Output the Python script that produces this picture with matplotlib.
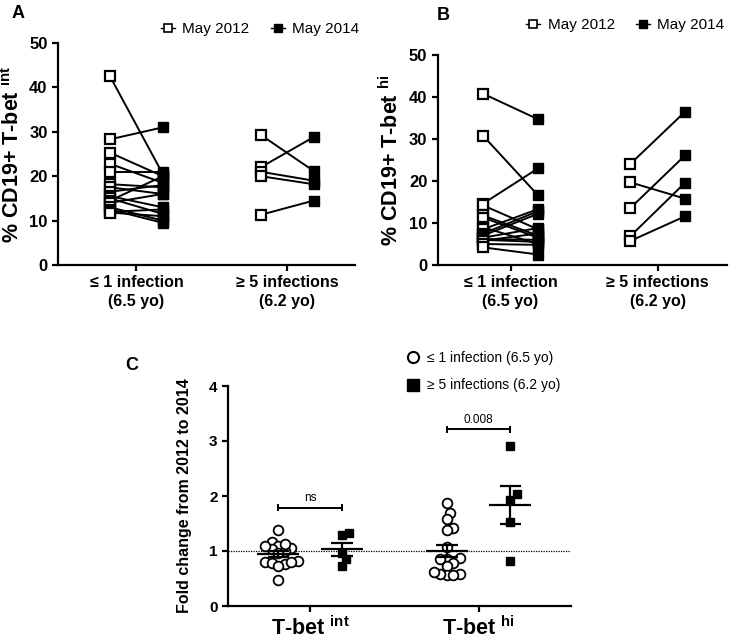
import numpy as np
import matplotlib
matplotlib.use('Agg')
import matplotlib.pyplot as plt
from matplotlib.lines import Line2D

plt.rcParams['font.family'] = ['Liberation Sans', 'DejaVu Sans']
plt.rcParams['mathtext.fontset'] = 'custom'
plt.rcParams['mathtext.rm'] = 'Liberation Sans:bold'
plt.rcParams['mathtext.bf'] = 'Liberation Sans:bold'
plt.rcParams['mathtext.it'] = 'Liberation Sans:bold'

# Panel A: % CD19+ T-bet int, paired 2012 -> 2014
GROUPS = ['≤ 1 infection\n(6.5 yo)', '≥ 5 infections\n(6.2 yo)']
A_LOW_2012 = [42.5, 28.3, 25.3, 22.8, 21.0, 18.2, 17.5, 16.5, 15.5, 15.0, 14.5, 14.0, 13.0, 12.5, 12.0, 11.8]
A_LOW_2014 = [20.5, 31.0, 20.0, 18.5, 21.0, 17.5, 16.0, 18.0, 13.0, 11.5, 20.0, 16.0, 10.0, 9.5, 12.5, 11.0]
A_HIGH_2012 = [29.3, 22.0, 21.0, 20.0, 11.3]
A_HIGH_2014 = [21.2, 28.8, 19.0, 18.2, 14.5]

# Panel B: % CD19+ T-bet hi, paired 2012 -> 2014
B_LOW_2012 = [40.8, 30.8, 14.6, 14.2, 11.8, 11.3, 9.0, 8.5, 7.5, 7.0, 6.5, 6.2, 6.0, 5.8, 5.0, 4.2]
B_LOW_2014 = [34.7, 16.6, 23.0, 8.5, 7.0, 6.5, 5.0, 13.3, 12.8, 12.2, 8.8, 6.0, 5.5, 7.5, 4.8, 2.5]
B_HIGH_2012 = [24.0, 19.7, 13.5, 6.8, 5.7]
B_HIGH_2014 = [36.5, 15.8, 26.1, 19.6, 11.6]

# Panel C: fold change 2012 -> 2014
C_CATS = ['T-bet $^{int}$', 'T-bet $^{hi}$']
C_INT_LOW = [1.39, 1.16, 1.10, 1.05, 1.00, 1.03, 1.10, 1.12, 0.96, 0.80, 0.82, 0.78, 0.76, 0.80, 0.72, 0.48]
C_INT_HIGH = [1.29, 1.32, 0.97, 0.85, 0.73]
C_HI_LOW = [1.87, 1.69, 1.58, 1.42, 1.39, 1.08, 0.87, 0.85, 0.78, 0.85, 0.73, 0.58, 0.56, 0.56, 0.58, 0.62]
C_HI_HIGH = [2.91, 2.03, 1.93, 1.53, 0.81]
P_VALUES = ['ns', '0.008']
P_LEVELS = [1.79, 3.21]

fig = plt.figure(figsize=(7.31, 6.4), dpi=100)


def style_axes(ax, lw=1.6):
    for side in ['top', 'right']:
        ax.spines[side].set_visible(False)
    for side in ['left', 'bottom']:
        ax.spines[side].set_linewidth(lw)
    ax.tick_params(width=lw, length=4, direction='out')


def paired_panel(ax, low0, low1, high0, high1, ylabel, off):
    for g, (v0, v1) in enumerate([(low0, low1), (high0, high1)]):
        for a, b in zip(v0, v1):
            ax.plot([g - off, g + off], [a, b], color='black', lw=1.4, zorder=2)
        ax.plot([g - off] * len(v0), v0, 's', ms=7, mfc='white', mec='black', mew=1.6,
                ls='none', zorder=3)
        ax.plot([g + off] * len(v1), v1, 's', ms=7, mfc='black', mec='black',
                ls='none', zorder=3)
    ax.set_ylim(0, 50)
    ax.set_yticks(range(0, 51, 10))
    ax.set_xticks([0, 1])
    ax.set_xticklabels(GROUPS, fontsize=11.5, fontweight='bold', linespacing=1.3)
    ax.set_ylabel(ylabel, fontsize=15.5, fontweight='bold', labelpad=4)
    for t in ax.get_yticklabels():
        t.set_fontsize(12)
        t.set_fontweight('bold')
    style_axes(ax)


def year_legend(ax, x, y):
    h_open = Line2D([], [], color='black', lw=1.0, marker='s', ms=5.5, mfc='white', mec='black', mew=1.2)
    h_fill = Line2D([], [], color='black', lw=1.0, marker='s', ms=5.5, mfc='black', mec='black')
    ax.legend([h_open, h_fill], ['May 2012', 'May 2014'], loc='lower left',
              bbox_to_anchor=(x / 731, 1 - y / 640), bbox_transform=fig.transFigure,
              ncol=2, frameon=False, fontsize=11, handlelength=0.9,
              handletextpad=0.5, columnspacing=1.4, borderaxespad=0)


axA = fig.add_axes([58 / 731, 1 - 265 / 640, (355 - 58) / 731, (265 - 43) / 640])
paired_panel(axA, A_LOW_2012, A_LOW_2014, A_HIGH_2012, A_HIGH_2014,
             '% CD19+ T-bet $^{int}$', 0.175)
axA.set_xlim(-0.52, 1.45)
year_legend(axA, 155, 42)
fig.text(12 / 731, 1 - 13 / 640, 'A', fontsize=13, fontweight='bold', va='center')

axB = fig.add_axes([437.7 / 731, 1 - 265 / 640, (726.7 - 437.7) / 731, (265 - 55) / 640])
paired_panel(axB, B_LOW_2012, B_LOW_2014, B_HIGH_2012, B_HIGH_2014,
             '% CD19+ T-bet $^{hi}$', 0.187)
axB.set_xlim(-0.495, 1.47)
year_legend(axB, 520, 38)
fig.text(437 / 731, 1 - 15 / 640, 'B', fontsize=13, fontweight='bold', va='center')

# Panel C
axC = fig.add_axes([228 / 731, 1 - 606 / 640, (571 - 228) / 731, (606 - 386) / 640])
axC.set_xlim(-0.49, 1.55)
axC.set_ylim(0, 4)


def swarm_x(ax, center, values, diam_px):
    pts = ax.transData.transform([(center, v) for v in values])
    cx = pts[0, 0]
    order = np.argsort(values)
    placed = []
    xs = np.zeros(len(values))
    step = diam_px / 2
    cands = [0]
    for k in range(1, 20):
        cands += [k * step, -k * step]
    for i in order:
        y = pts[i, 1]
        for c in cands:
            if all((cx + c - px) ** 2 + (y - py) ** 2 >= diam_px ** 2 for px, py in placed):
                placed.append((cx + c, y))
                xs[i] = cx + c
                break
    inv = ax.transData.inverted()
    return [inv.transform((x, 0))[0] for x in xs]


off = 0.19
series = [(0 - off, C_INT_LOW, 'o'), (0 + off, C_INT_HIGH, 's'),
          (1 - off, C_HI_LOW, 'o'), (1 + off, C_HI_HIGH, 's')]
for pos, vals, mk in series:
    if mk == 'o':
        xs = swarm_x(axC, pos, vals, 6.5)
        axC.plot(xs, vals, 'o', ms=7, mfc='white', mec='black', mew=1.3, ls='none', zorder=3)
    else:
        xs = swarm_x(axC, pos, vals, 7)
        axC.plot(xs, vals, 's', ms=6, mfc='black', mec='black', ls='none', zorder=3)
    m = np.mean(vals)
    sem = np.std(vals, ddof=1) / np.sqrt(len(vals))
    axC.hlines(m, pos - 0.125, pos + 0.125, color='black', lw=1.6, zorder=4)
    axC.vlines(pos, m - sem, m + sem, color='black', lw=1.6, zorder=4)
    axC.hlines([m - sem, m + sem], pos - 0.065, pos + 0.065, color='black', lw=1.6, zorder=4)

axC.axhline(1, color='black', lw=0.9, ls=(0, (1, 1)), zorder=1)

for g, (txt, lvl) in enumerate(zip(P_VALUES, P_LEVELS)):
    x0, x1 = g - off, g + off
    axC.plot([x0, x1], [lvl, lvl], color='black', lw=1.4)
    axC.plot([x0, x0], [lvl - 0.05, lvl + 0.05], color='black', lw=1.4)
    axC.plot([x1, x1], [lvl - 0.05, lvl + 0.05], color='black', lw=1.4)
    axC.text(g, lvl + 0.06, txt, ha='center', va='bottom', fontsize=8.5)

axC.set_xticks([0, 1])
axC.set_xticklabels(C_CATS, fontsize=15.5, fontweight='bold')
axC.set_yticks(range(0, 5))
for t in axC.get_yticklabels():
    t.set_fontsize(11)
    t.set_fontweight('bold')
axC.set_ylabel('Fold change from 2012 to 2014', fontsize=11.5, fontweight='bold', labelpad=12)
style_axes(axC)

hc = axC.plot([], [], 'o', ms=8, mfc='white', mec='black', mew=1.5, ls='none')[0]
hs = axC.plot([], [], 's', ms=8, mfc='black', mec='black', ls='none')[0]
fig.legend([hc, hs], ['≤ 1 infection (6.5 yo)', '≥ 5 infections (6.2 yo)'],
           loc='upper left', bbox_to_anchor=(402 / 731, 1 - 345 / 640), frameon=False,
           fontsize=10, handlelength=0.8, handletextpad=0.6, labelspacing=1.0, borderaxespad=0)
fig.text(125 / 731, 1 - 365 / 640, 'C', fontsize=13, fontweight='bold', va='center')

fig.savefig('out.png', dpi=100)
